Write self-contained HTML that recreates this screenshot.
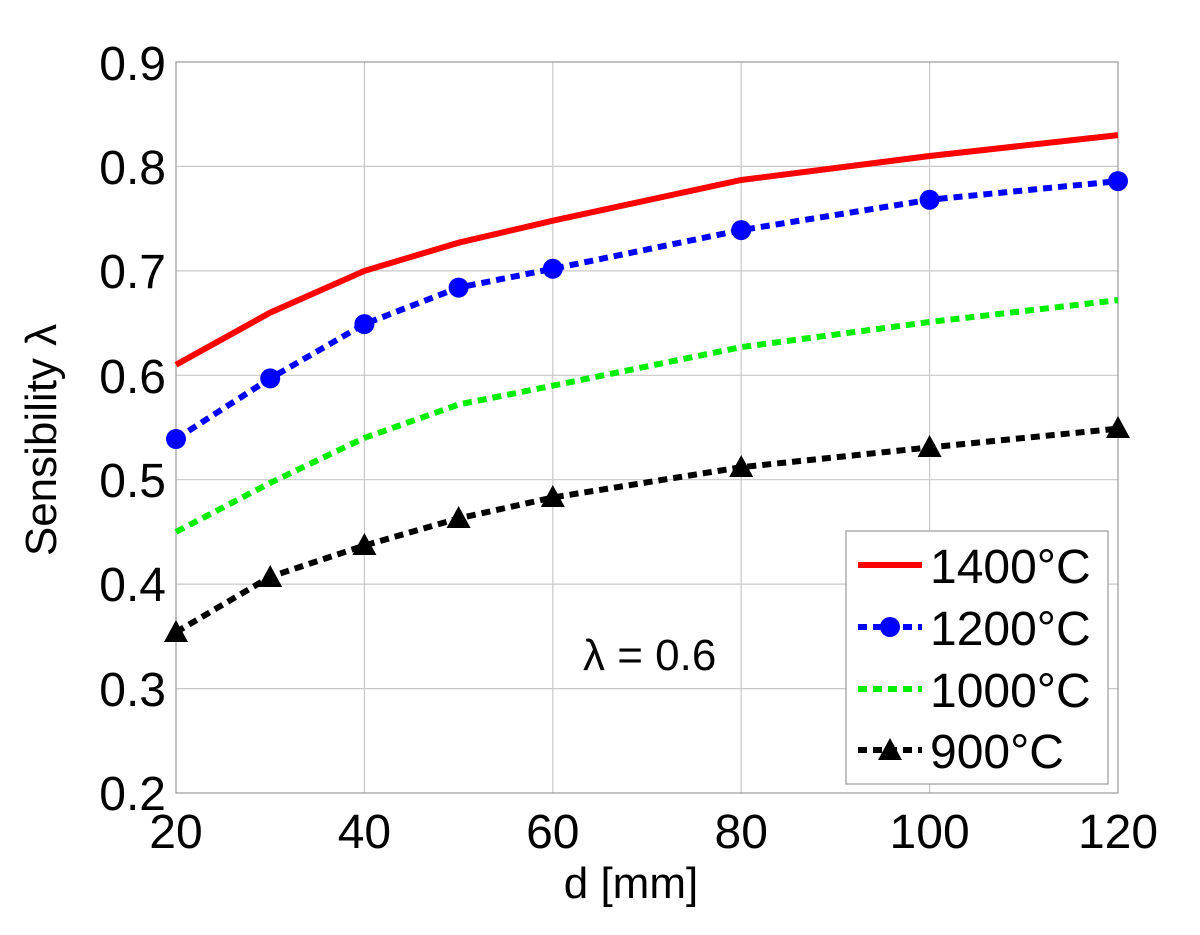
<!DOCTYPE html>
<html><head><meta charset="utf-8"><style>body{margin:0;background:#fff}svg{display:block}text{font-family:"Liberation Sans",sans-serif}</style></head><body>
<svg width="1200" height="935" viewBox="0 0 1200 935">
<g stroke="#c8c8c8" stroke-width="1.2">
<line x1="364.4" y1="62" x2="364.4" y2="793"/><line x1="552.8" y1="62" x2="552.8" y2="793"/><line x1="741.2" y1="62" x2="741.2" y2="793"/><line x1="929.6" y1="62" x2="929.6" y2="793"/>
<line x1="176" y1="166.4" x2="1118" y2="166.4"/><line x1="176" y1="270.9" x2="1118" y2="270.9"/><line x1="176" y1="375.3" x2="1118" y2="375.3"/><line x1="176" y1="479.7" x2="1118" y2="479.7"/><line x1="176" y1="584.1" x2="1118" y2="584.1"/><line x1="176" y1="688.6" x2="1118" y2="688.6"/>
</g>
<rect x="176" y="62" width="942" height="731" fill="none" stroke="#999" stroke-width="1.2"/>
<polyline fill="none" stroke="#ff0000" stroke-width="6" points="176,364.8 270.2,312.6 364.4,270.9 458.6,242.7 552.8,220.7 741.2,180 929.6,156 1118,135.1"/>
<polyline fill="none" stroke="#0000ff" stroke-width="6" stroke-dasharray="9,6" points="176,439 270.2,378.4 364.4,324.1 458.6,287.6 552.8,268.8 741.2,230.1 929.6,199.8 1118,181.1"/>
<g fill="#0000ff"><circle cx="176" cy="439" r="10"/><circle cx="270.2" cy="378.4" r="10"/><circle cx="364.4" cy="324.1" r="10"/><circle cx="458.6" cy="287.6" r="10"/><circle cx="552.8" cy="268.8" r="10"/><circle cx="741.2" cy="230.1" r="10"/><circle cx="929.6" cy="199.8" r="10"/><circle cx="1118" cy="181.1" r="10"/></g>
<polyline fill="none" stroke="#00ee00" stroke-width="6" stroke-dasharray="9,6" points="176,531.9 270.2,482.9 364.4,437.9 458.6,404.5 552.8,385.7 741.2,347.1 929.6,322 1118,300.1"/>
<polyline fill="none" stroke="#000" stroke-width="6" stroke-dasharray="9,6" points="176,632.2 270.2,576.8 364.4,545.5 458.6,518.4 552.8,497.5 741.2,467.2 929.6,447.4 1118,428.6"/>
<g fill="#000">
<polygon points="176,620 164,642 188,642"/><polygon points="270.2,565 258.2,587 282.2,587"/><polygon points="364.4,533 352.4,555 376.4,555"/><polygon points="458.6,506 446.6,528 470.6,528"/><polygon points="552.8,485 540.8,507 564.8,507"/><polygon points="741.2,455 729.2,477 753.2,477"/><polygon points="929.6,435 917.6,457 941.6,457"/><polygon points="1118,416 1106,438 1130,438"/>
</g>
<rect x="846" y="531" width="262" height="253" fill="#fff" stroke="#999" stroke-width="1.2"/>
<line x1="858" y1="565" x2="922" y2="565" stroke="#ff0000" stroke-width="6"/>
<line x1="858" y1="627" x2="922" y2="627" stroke="#0000ff" stroke-width="6" stroke-dasharray="9,6"/><circle cx="890" cy="627" r="10" fill="#0000ff"/>
<line x1="858" y1="689" x2="922" y2="689" stroke="#00ee00" stroke-width="6" stroke-dasharray="9,6"/>
<line x1="858" y1="750" x2="922" y2="750" stroke="#000" stroke-width="6" stroke-dasharray="9,6"/><polygon points="890,738 878,760 902,760" fill="#000"/>
<g font-size="48" fill="#000">
<text x="930" y="583">1400°C</text><text x="930" y="645">1200°C</text><text x="930" y="707">1000°C</text><text x="930" y="768">900°C</text>
<text x="583" y="670" font-size="44">λ = 0.6</text>
</g>
<g font-size="48" text-anchor="end" fill="#000">
<text x="166" y="80">0.9</text><text x="166" y="184">0.8</text><text x="166" y="288">0.7</text><text x="166" y="393">0.6</text><text x="166" y="497">0.5</text><text x="166" y="601">0.4</text><text x="166" y="706">0.3</text><text x="166" y="810">0.2</text>
</g>
<g font-size="48" text-anchor="middle" fill="#000">
<text x="176" y="848">20</text><text x="364.4" y="848">40</text><text x="552.8" y="848">60</text><text x="741.2" y="848">80</text><text x="929.6" y="848">100</text><text x="1118" y="848">120</text>
<text x="631" y="898" font-size="44">d [mm]</text>
<text transform="translate(56,440) rotate(-90)" font-size="44">Sensibility λ</text>
</g>
</svg>
</body></html>
